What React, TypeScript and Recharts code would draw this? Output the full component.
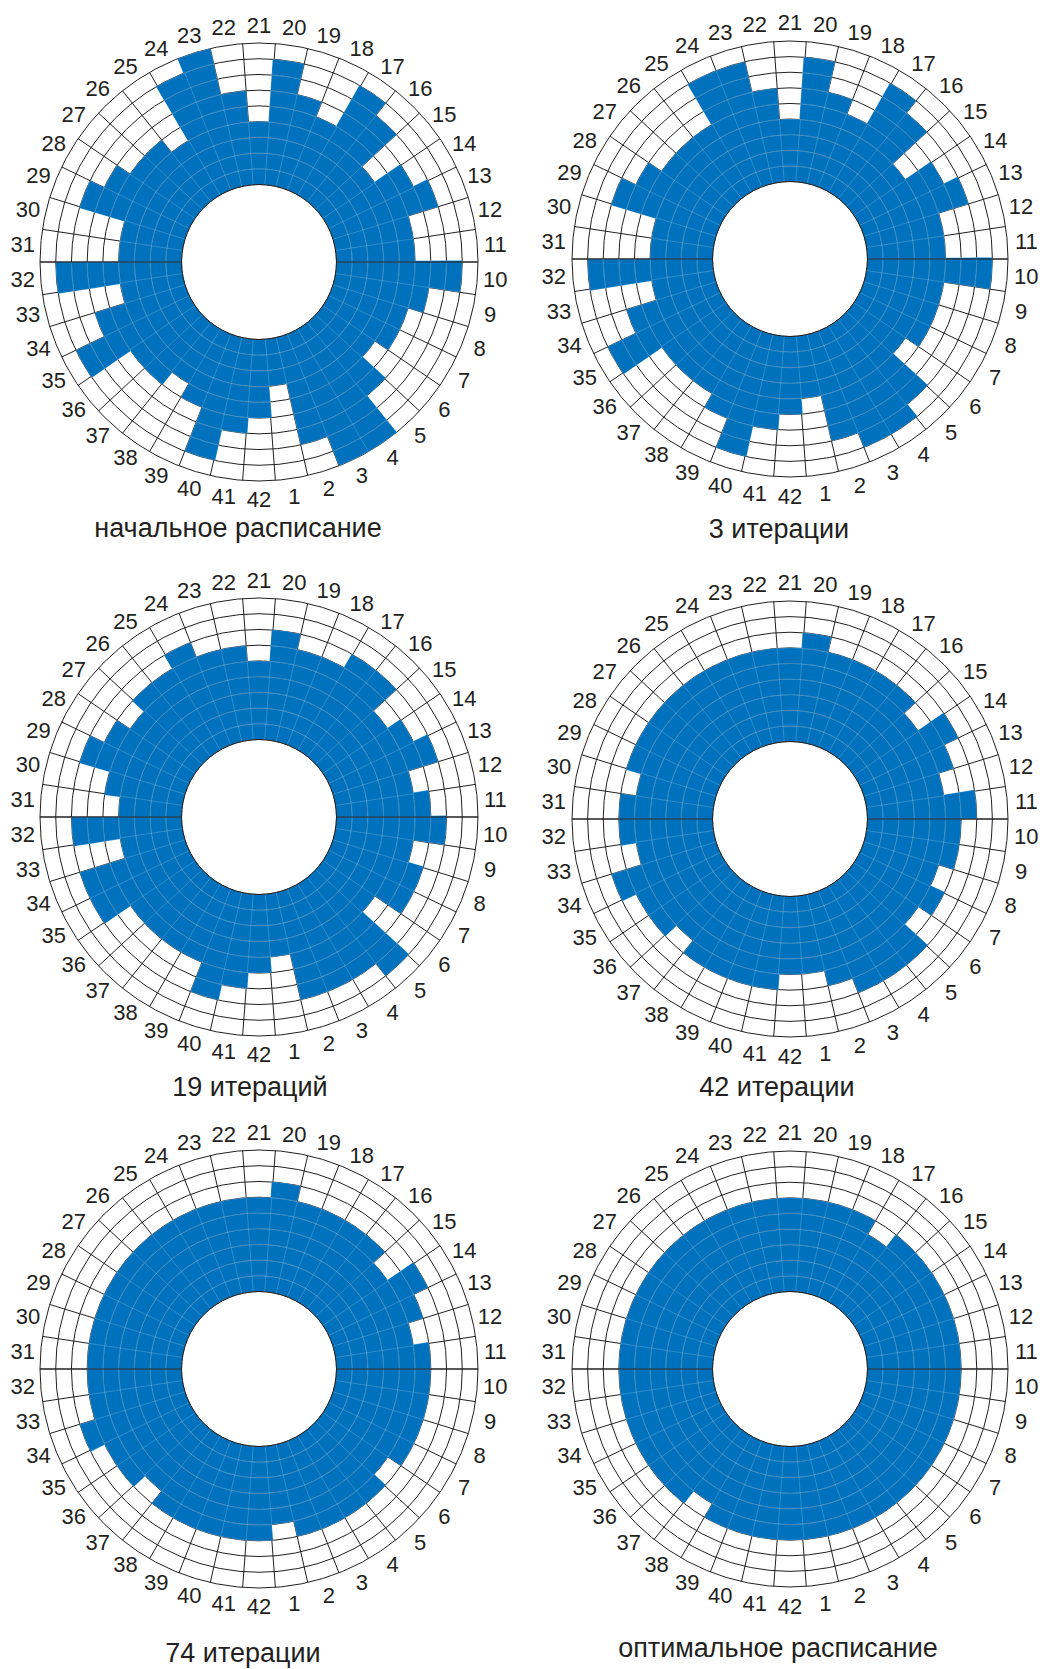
import React from "react";
import {
  RadialBarChart,
  RadialBar,
  PolarAngleAxis,
  PolarRadiusAxis,
  PolarGrid,
  Cell,
} from "recharts";

// machine numbers around the wheel
const machines = [
  "1", "2", "3", "4", "5", "6", "7", "8", "9", "10", "11", "12", "13", "14",
  "15", "16", "17", "18", "19", "20", "21", "22", "23", "24", "25", "26", "27", "28",
  "29", "30", "31", "32", "33", "34", "35", "36", "37", "38", "39", "40", "41", "42",
];

// load (number of filled rings) per machine
const initialSchedule = [3, 7, 9, 9, 6, 4, 5, 5, 6, 8, 5, 5, 7, 6, 4, 7, 8, 5, 6, 8, 4, 6, 9, 8, 4, 5, 5, 6, 7, 4, 4, 8, 4, 6, 8, 5, 5, 4, 5, 8, 6, 5];
const after3 = [4, 7, 8, 8, 7, 4, 5, 5, 5, 8, 5, 5, 7, 6, 4, 7, 8, 5, 6, 8, 4, 6, 8, 8, 5, 5, 5, 6, 7, 4, 4, 8, 4, 6, 8, 5, 5, 5, 6, 8, 6, 5];
const after19 = [4, 7, 7, 7, 8, 4, 6, 6, 5, 7, 6, 5, 7, 6, 5, 7, 7, 6, 6, 7, 5, 6, 6, 7, 6, 6, 5, 6, 7, 5, 4, 7, 4, 7, 7, 5, 5, 5, 5, 7, 6, 5];
const after42 = [5, 6, 7, 7, 7, 5, 6, 5, 6, 6, 7, 5, 6, 7, 5, 6, 6, 6, 6, 7, 6, 6, 6, 6, 6, 6, 6, 6, 6, 5, 6, 6, 5, 7, 6, 6, 5, 6, 6, 6, 6, 5];
const after74 = [5, 6, 6, 6, 6, 5, 6, 6, 6, 6, 6, 5, 6, 7, 5, 6, 6, 6, 6, 7, 6, 6, 6, 6, 6, 6, 6, 6, 6, 6, 6, 6, 6, 7, 6, 6, 5, 6, 6, 6, 6, 6];
const optimalSchedule = [6, 6, 6, 6, 6, 6, 6, 6, 6, 6, 6, 6, 6, 6, 6, 6, 5, 6, 6, 6, 6, 6, 6, 6, 6, 6, 6, 6, 6, 6, 6, 6, 6, 6, 6, 6, 6, 5, 6, 6, 6, 6];

const rings = [1, 2, 3, 4, 5, 6, 7, 8, 9];

const BLUE = "#0072BD";
const INK = "#231F20";
const FONT = "'Liberation Sans', Arial, Helvetica, sans-serif";

const STEP = 360 / machines.length;
const START = 90 - 20.5 * STEP; // machine 21 sits at the top
const INNER = 77.5;
const LABEL_R = 237;
const W = 522;
const H = 555;

type WheelProps = {
  levels: number[];
  title: string;
  left: number;
  top: number;
  cx: number;
  cy: number;
  outer: number;
  titleX: number;
  titleY: number;
};

function Wheel({ levels, title, left, top, cx, cy, outer, titleX, titleY }: WheelProps) {
  const data = machines.map((name, i) => {
    const row: Record<string, string | number> = { name, level: levels[i] };
    rings.forEach((k) => {
      row["r" + k] = levels[i] >= k ? 1 : 0;
    });
    return row;
  });
  const spokes = machines.map((_, i) => START + i * STEP);
  const ringStep = (outer - INNER) / rings.length;
  const circles = [0, ...rings].map((k) => INNER + k * ringStep);

  const chartProps = {
    width: W,
    height: H,
    data,
    cx,
    cy,
    innerRadius: INNER,
    outerRadius: outer,
    // the angle band of the bars lags one sector, so the axis starts one step later
    startAngle: START + STEP,
    endAngle: START + STEP + 360,
    layout: "centric" as const,
    barCategoryGap: 0,
    barGap: 0,
    margin: { top: 0, right: 0, bottom: 0, left: 0 },
  };

  const renderTick = (props: any) => {
    const a = ((START + (props.index + 0.5) * STEP) * Math.PI) / 180;
    return (
      <text
        x={cx + LABEL_R * Math.cos(a)}
        y={cy - LABEL_R * Math.sin(a)}
        textAnchor="middle"
        dominantBaseline="central"
        fontSize={22}
        fontFamily={FONT}
        fill={INK}
      >
        {props.payload.value}
      </text>
    );
  };

  return (
    <div style={{ position: "absolute", left, top, width: W, height: H }}>
      <div style={{ position: "absolute", left: 0, top: 0 }}>
        <RadialBarChart {...chartProps}>
          <PolarGrid
            gridType="circle"
            polarAngles={spokes}
            polarRadius={circles}
            stroke={INK}
            strokeWidth={1}
          />
          <PolarAngleAxis
            dataKey="name"
            type="category"
            tick={renderTick}
            axisLine={false}
            tickLine={false}
          />
          <PolarRadiusAxis type="number" domain={[0, 9]} tick={false} axisLine={false} />
          {rings.map((k) => (
            <RadialBar key={k} dataKey={"r" + k} stackId="cells" isAnimationActive={false}>
              {data.map((d, i) => (
                <Cell
                  key={i}
                  fill={d["r" + k] ? BLUE : "none"}
                  stroke={d["r" + k] ? "rgba(255,255,255,0.3)" : "none"}
                  strokeWidth={0.6}
                />
              ))}
            </RadialBar>
          ))}
        </RadialBarChart>
      </div>
      {/* hole rim and the horizontal axis show through the filled cells */}
      <div style={{ position: "absolute", left: 0, top: 0, pointerEvents: "none" }}>
        <RadialBarChart {...chartProps}>
          <PolarGrid
            gridType="circle"
            polarAngles={[0, 180]}
            polarRadius={[INNER]}
            stroke={INK}
            strokeWidth={1}
          />
        </RadialBarChart>
      </div>
      <div
        style={{
          position: "absolute",
          left: titleX - left - 250,
          top: titleY - top - 16,
          width: 500,
          textAlign: "center",
          fontFamily: FONT,
          fontSize: 27,
          lineHeight: "32px",
          color: INK,
        }}
      >
        {title}
      </div>
    </div>
  );
}

export default function App() {
  return (
    <div style={{ position: "absolute", left: 0, top: 0, width: 1044, height: 1669, background: "#fff" }}>
      <Wheel levels={initialSchedule} title="начальное расписание" left={0} top={0} cx={259} cy={262} outer={219} titleX={238} titleY={528} />
      <Wheel levels={after3} title="3 итерации" left={522} top={0} cx={268} cy={259} outer={218} titleX={779} titleY={529} />
      <Wheel levels={after19} title="19 итераций" left={0} top={555} cx={259} cy={262} outer={219} titleX={250} titleY={1087} />
      <Wheel levels={after42} title="42 итерации" left={522} top={555} cx={268} cy={264} outer={218} titleX={777} titleY={1087} />
      <Wheel levels={after74} title="74 итерации" left={0} top={1110} cx={259} cy={259} outer={219} titleX={243} titleY={1653} />
      <Wheel levels={optimalSchedule} title="оптимальное расписание" left={522} top={1110} cx={268} cy={259} outer={218} titleX={778} titleY={1648} />
    </div>
  );
}
